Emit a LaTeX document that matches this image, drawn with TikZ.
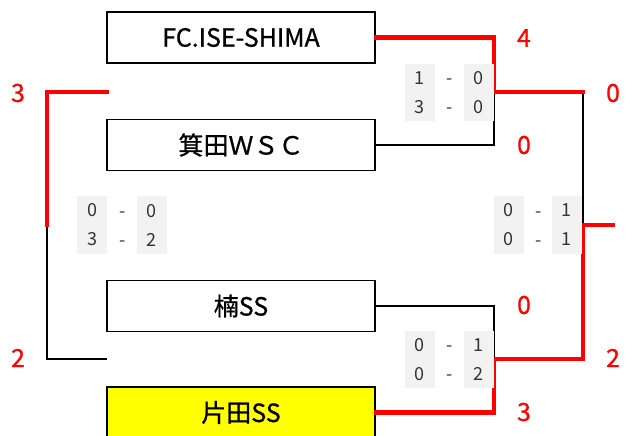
\documentclass[tikz,border=0pt]{standalone}
\usepackage{fontspec}
\setmainfont{Noto Sans CJK JP}
\newfontfamily\teamfont{Noto Sans CJK JP}[FakeBold=0.8]
\newfontfamily\goalfont{Noto Sans CJK JP}[FakeBold=0.6]
\definecolor{pureyellow}{RGB}{255,255,0}
\definecolor{purered}{RGB}{255,0,0}
\definecolor{cellgray}{RGB}{242,242,242}
\begin{document}
\begin{tikzpicture}[x=1pt,y=-1pt,
  team/.style={draw=black,line width=1.6pt,minimum width=268pt,minimum height=51pt,inner sep=0pt,font=\teamfont\fontsize{25}{28}\selectfont},
  win/.style={draw=purered,line width=4.5pt,line join=miter,line cap=rect},
  lose/.style={draw=black,line width=1.3pt},
  scorecell/.style={fill=cellgray,minimum width=30pt,minimum height=57pt,inner sep=0pt,align=center,text=black!80,font=\fontsize{18}{29}\selectfont},
  dashtxt/.style={align=center,text=black!80,inner sep=0pt,font=\fontsize{18}{29}\selectfont},
  goal/.style={text=purered,inner sep=0pt,font=\goalfont\fontsize{25}{28}\selectfont}]
\useasboundingbox (0,0) rectangle (625,436);
% teams
\node[team] (t1) at (241,37.5) {FC.ISE-SHIMA};
\node[team] (t2) at (241,145) {箕田ＷＳＣ};
\node[team] (t3) at (241,306) {楠SS};
\node[team,fill=pureyellow] (t4) at (241,412.5) {片田SS};
% bracket coordinates
\coordinate (a1) at (494,37.5);
\coordinate (a2) at (494,92);
\coordinate (a3) at (494,145);
\coordinate (b1) at (583,92);
\coordinate (b2) at (583,225);
\coordinate (b3) at (613,225);
\coordinate (c1) at (494,306);
\coordinate (c2) at (494,359);
\coordinate (c3) at (494,412.5);
\coordinate (d1) at (583,359);
\coordinate (l1) at (107,92);
\coordinate (l2) at (47,92);
\coordinate (l3) at (47,225);
\coordinate (l4) at (47,359);
\coordinate (l5) at (107,359);
% losers
\draw[lose] (t2.east) -- (a3) -- (a2);
\draw[lose] (b1) -- (b2);
\draw[lose] (t3.east) -- (c1) -- (c2);
\draw[lose] (l3) -- (l4) -- (l5);
% winners
\draw[win] (t1.east) -- (a1) -- (a2) -- (b1);
\draw[win] (t4.east) -- (c3) -- (c2) -- (d1) -- (b2) -- (b3);
\draw[win] (l1) -- (l2) -- (l3);
% scores
\node[scorecell] (s1a) at (419.5,92.5) {1\\3};
\node[dashtxt] (s1d) at (450,92.5) {\vphantom{0}-\\-};
\node[scorecell] (s1b) at (478.5,92.5) {0\\0};
\node[scorecell] (s2a) at (419.5,359.5) {0\\0};
\node[dashtxt] (s2d) at (450,359.5) {\vphantom{0}-\\-};
\node[scorecell] (s2b) at (478.5,359.5) {1\\2};
\node[scorecell] (s3a) at (92,225) {0\\3};
\node[dashtxt] (s3d) at (123,225) {\vphantom{0}-\\-};
\node[scorecell] (s3b) at (151.5,225) {0\\2};
\node[scorecell] (s4a) at (508.5,225) {0\\0};
\node[dashtxt] (s4d) at (539,225) {\vphantom{0}-\\-};
\node[scorecell] (s4b) at (566.5,225) {1\\1};
% goals
\node[goal] (g1) at (524,38) {4};
\node[goal] (g2) at (524,145) {0};
\node[goal] (g3) at (524,305) {0};
\node[goal] (g4) at (524,412) {3};
\node[goal] (g5) at (613,93) {0};
\node[goal] (g6) at (613,358) {2};
\node[goal] (g7) at (18,93) {3};
\node[goal] (g8) at (18,358) {2};
\end{tikzpicture}
\end{document}
